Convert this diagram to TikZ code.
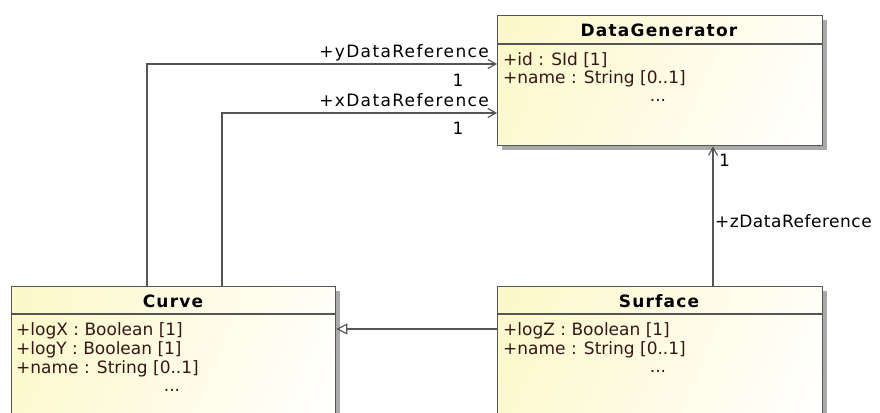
\documentclass[tikz,border=0pt]{standalone}
\usepackage{fontspec}
\setmainfont{DejaVu Sans}
\usetikzlibrary{arrows.meta,shadows,shadings}
\definecolor{ylw}{RGB}{252,248,200}
\definecolor{lnc}{RGB}{85,85,85}
\definecolor{attc}{RGB}{56,22,22}
\definecolor{shd}{RGB}{170,170,170}
\tikzset{
  classbox/.style={draw=lnc, line width=1.3pt, inner sep=0pt, anchor=north west,
    upper left=ylw, upper right=ylw!15!white, lower left=ylw!85!white, lower right=white,
    drop shadow={shadow xshift=4pt, shadow yshift=-4pt, fill=shd, opacity=1}},
  sep/.style={draw=lnc, line width=1.3pt},
  hdr/.style={font=\fontsize{17}{19}\selectfont\bfseries\addfontfeature{LetterSpace=7}, anchor=base, inner sep=0pt, text=black},
  attr/.style={font=\fontsize{17}{19}\selectfont, anchor=base west, inner sep=0pt, text=attc},
  dots/.style={font=\fontsize{17}{19}\selectfont, anchor=base, inner sep=0pt, text=attc},
  role/.style={font=\fontsize{17}{19}\selectfont\addfontfeature{LetterSpace=8}, inner sep=0pt, text=black},
  rolez/.style={font=\fontsize{17}{19}\selectfont\addfontfeature{LetterSpace=3}, inner sep=0pt, text=black},
  assoc/.style={draw=lnc, line width=1.15pt, -{Straight Barb[length=8pt,width=9pt]}},
  gen/.style={draw=lnc, line width=1.15pt, -{Triangle[open,length=11pt,width=11pt,fill=white]}}
}
\begin{document}
\begin{tikzpicture}[x=1pt,y=-1pt]
\useasboundingbox (0,0) rectangle (880,412);
% boxes
\node[classbox, minimum width=325pt, minimum height=130pt] (dg) at (497,15) {};
\node[classbox, minimum width=324pt, minimum height=140pt] (curve) at (11,286) {};
\node[classbox, minimum width=325pt, minimum height=140pt] (surf) at (497,286) {};
\draw[sep] ([yshift=-29pt]dg.north west) -- ([yshift=-29pt]dg.north east);
\draw[sep] ([yshift=-28pt]curve.north west) -- ([yshift=-28pt]curve.north east);
\draw[sep] ([yshift=-28pt]surf.north west) -- ([yshift=-28pt]surf.north east);
% DataGenerator
\node[hdr] (dgh) at (659,37) {DataGenerator};
\node[attr] (dga1) at (503,65) {+id : SId [1]};
\node[attr] (dga2) at (503,83) {+name : String [0..1]};
\node[dots] (dgd) at (658,101) {...};
% Curve
\node[hdr] (cvh) at (173,307) {Curve};
\node[attr] (cva1) at (16,335) {+logX : Boolean [1]};
\node[attr] (cva2) at (16,354) {+logY : Boolean [1]};
\node[attr] (cva3) at (16,373) {+name : String [0..1]};
\node[dots] (cvd) at (172,391) {...};
% Surface
\node[hdr] (sfh) at (659,307) {Surface};
\node[attr] (sfa1) at (503,335) {+logZ : Boolean [1]};
\node[attr] (sfa2) at (503,354) {+name : String [0..1]};
\node[dots] (sfd) at (658,372) {...};
% connectors
\draw[assoc] ([xshift=136pt]curve.north west) |- ([yshift=-49pt]dg.north west);
\draw[assoc] ([xshift=211pt]curve.north west) |- ([yshift=-98pt]dg.north west);
\draw[assoc] ([xshift=216pt]surf.north west) -- ([xshift=216pt]dg.south west);
\draw[gen] ([yshift=-43pt]surf.north west) -- ([yshift=-43pt]curve.north east);
% labels
\node[role, anchor=base east] (ly) at (489,58) {+yDataReference};
\node[role, anchor=base] (ly1) at (458,86) {1};
\node[role, anchor=base east] (lx) at (489,106) {+xDataReference};
\node[role, anchor=base] (lx1) at (458,134) {1};
\node[role, anchor=base west] (lz1) at (719,166) {1};
\node[rolez, anchor=base west] (lz) at (715,227) {+zDataReference};
\end{tikzpicture}
\end{document}
